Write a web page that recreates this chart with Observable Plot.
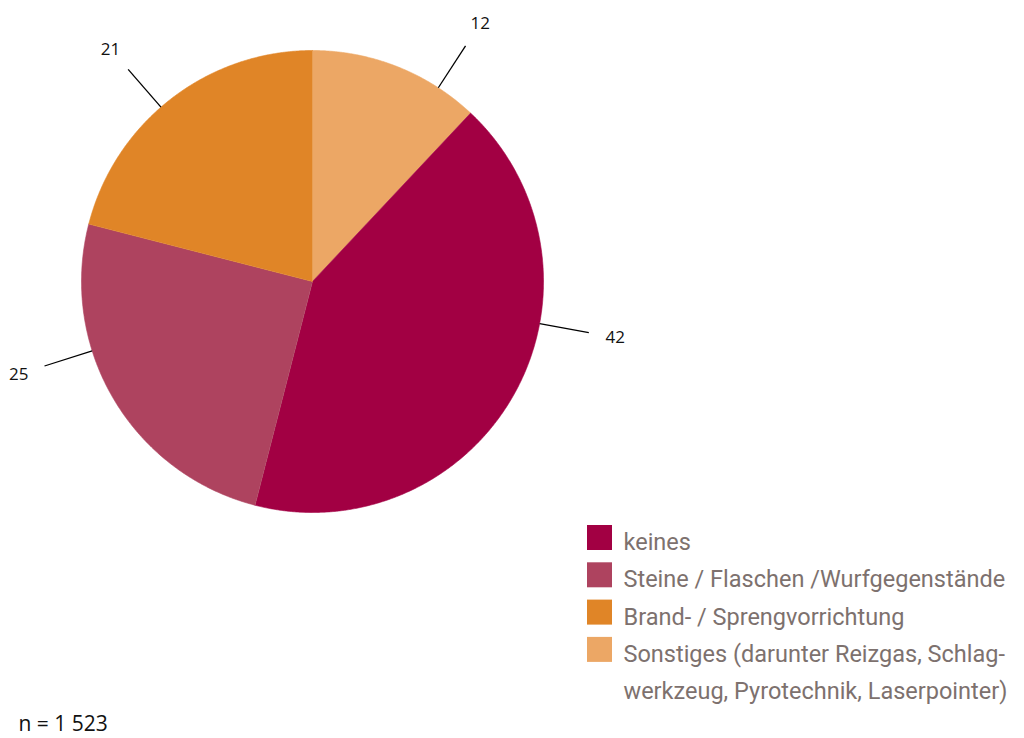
<!DOCTYPE html>
<html><head><meta charset="utf-8">
<script src="https://cdn.jsdelivr.net/npm/d3@7"></script>
<script src="https://cdn.jsdelivr.net/npm/@observablehq/plot@0.6"></script>
<style>body{margin:0;background:#fff;} #chart svg{display:block;}</style>
</head><body><div id="chart"></div>
<script>
// ---- data ----
const categories = [
  "keines",
  "Steine / Flaschen /Wurfgegenstände",
  "Brand- / Sprengvorrichtung",
  "Sonstiges (darunter Reizgas, Schlag-\nwerkzeug, Pyrotechnik, Laserpointer)"
];
const shares = [42, 25, 21, 12];
const colors = ["#a20043", "#ae435f", "#e08527", "#eca765"];
const sampleNote = "n = 1 523";

// ---- layout ----
const W = 1024, H = 738, cx = 312, cy = 281, R = 231;
const pieOrder = [3, 0, 1, 2]; // drawn clockwise from 12 o'clock
// manual label placement (degrees clockwise from 12 o'clock), per category as in the original
const labelAngleDeg = [100.5, 252.5, 319, 33];
const arcs = d3.pie().sort(null).value(i => shares[i])(pieOrder);

const polys = [];
const labels = [];
for (const a of arcs) {
  const i = a.data, cat = categories[i];
  polys.push({x: cx, y: cy, cat});
  const n = Math.max(2, Math.ceil((a.endAngle - a.startAngle) / 0.005));
  for (let k = 0; k <= n; k++) {
    const t = a.startAngle + (a.endAngle - a.startAngle) * k / n;
    polys.push({x: cx + R * Math.sin(t), y: cy - R * Math.cos(t), cat});
  }
  const m = labelAngleDeg[i] * Math.PI / 180;
  labels.push({
    x1: cx + R * Math.sin(m), y1: cy - R * Math.cos(m),
    x2: cx + (R + 50) * Math.sin(m), y2: cy - (R + 50) * Math.cos(m),
    tx: cx + (R + 77) * Math.sin(m), ty: cy - (R + 77) * Math.cos(m),
    text: String(shares[i])
  });
}

const legendRows = categories.map((c, i) => ({c, i}));
const lx = 587, ly = 525, lstep = 37.3, box = 25, legendFont = 23.5;

const chart = Plot.plot({
  width: W, height: H, margin: 0,
  style: {fontFamily: "'Open Sans', sans-serif", background: "#fff"},
  x: {domain: [0, W], range: [0, W], axis: null},
  y: {domain: [0, H], range: [0, H], axis: null},
  color: {domain: categories, range: colors},
  marks: [
    Plot.line(polys, {x: "x", y: "y", z: "cat", fill: "cat", stroke: "cat", strokeWidth: 0.6, curve: "linear"}),
    Plot.link(labels, {x1: "x1", y1: "y1", x2: "x2", y2: "y2", stroke: "#000", strokeWidth: 1.3}),
    Plot.text(labels, {x: "tx", y: "ty", text: "text", fontSize: 17, fill: "#111", textAnchor: "middle", lineAnchor: "middle"}),
    Plot.rect(legendRows, {x1: () => lx, x2: () => lx + box, y1: d => ly + d.i * lstep, y2: d => ly + d.i * lstep + box, fill: "c"}),
    Plot.text(legendRows, {x: () => lx + box + 11, y: d => ly + box + d.i * lstep - 0.71 * legendFont - 10, text: "c",
      textAnchor: "start", lineAnchor: "top", lineHeight: 37 / legendFont, fontSize: legendFont,
      fontFamily: "Roboto, sans-serif", fill: "#7d716e"}),
    Plot.text([sampleNote], {x: () => 18, y: () => 724, text: d => d, textAnchor: "start", lineAnchor: "middle", fontSize: 21, fill: "#111"})
  ]
});
document.getElementById("chart").appendChild(chart);
</script>
</body></html>
